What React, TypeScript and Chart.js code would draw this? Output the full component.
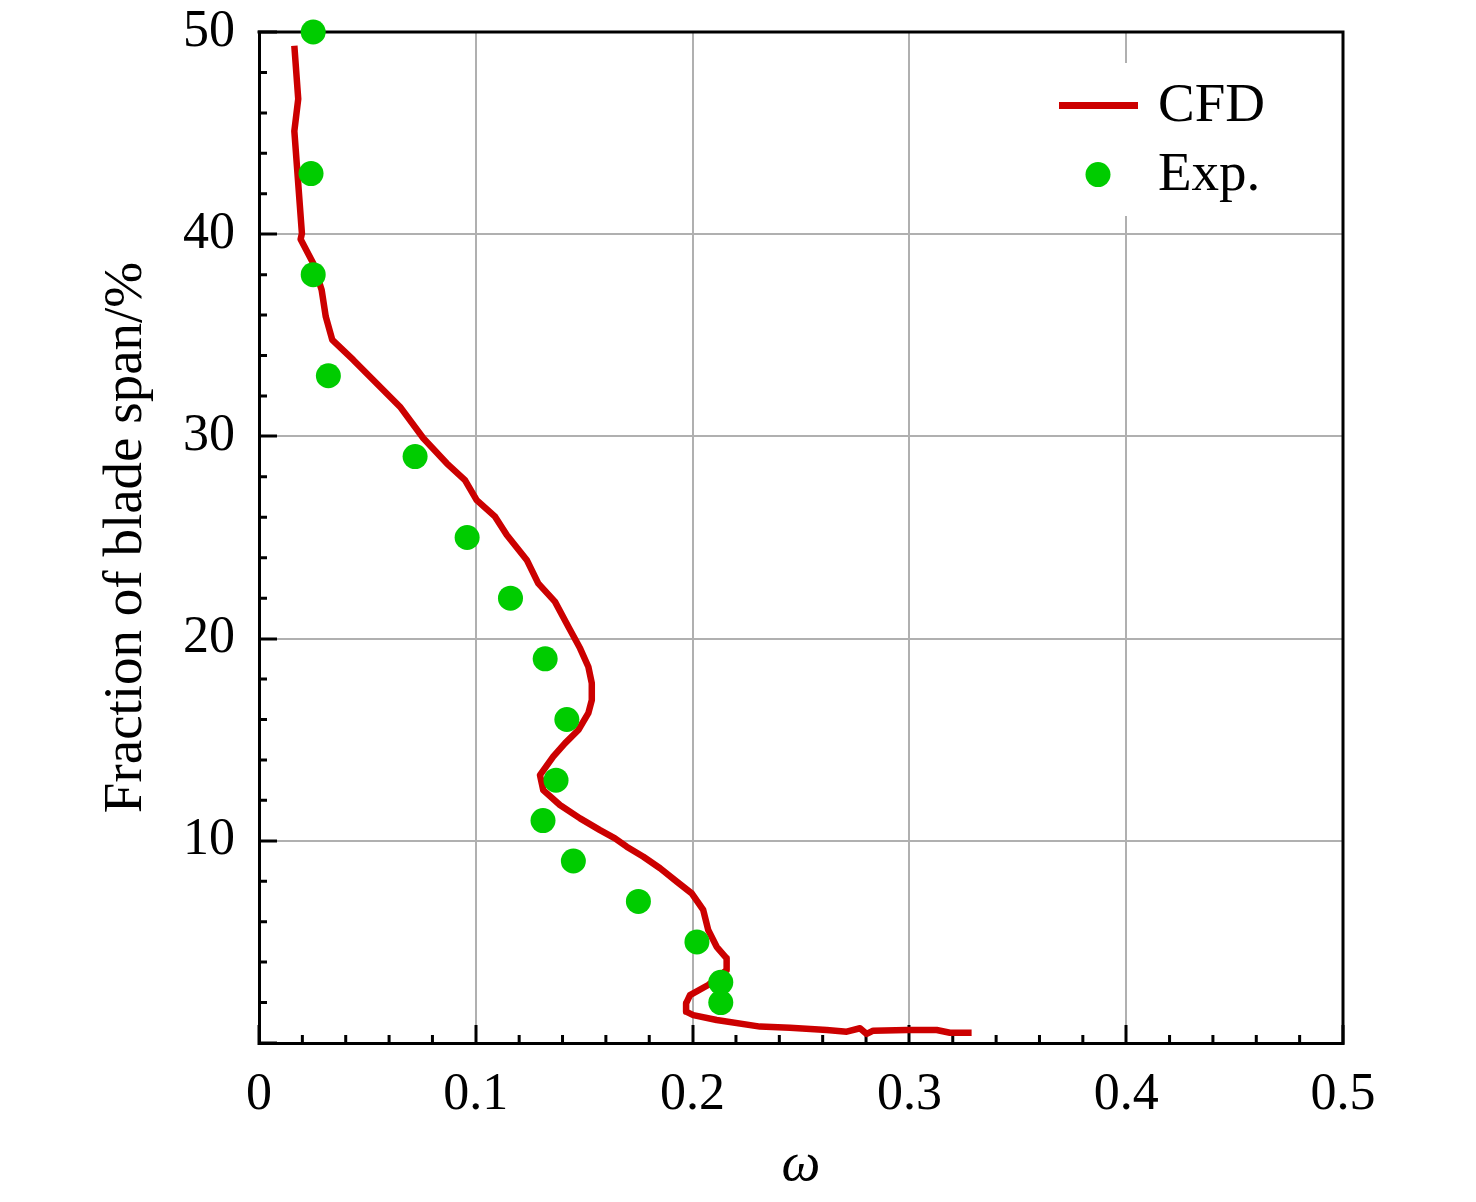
import React, { useEffect, useRef } from 'react';
import { Chart, registerables } from 'chart.js';

Chart.register(...registerables);

// CFD curve (omega vs fraction of blade span, %)
const cfdOmega = [
  0.0163, 0.0181, 0.0163, 0.0198, 0.0192, 0.025, 0.0289, 0.0308, 0.0338, 0.0435,
  0.0527, 0.065, 0.0758, 0.0866, 0.095, 0.1004, 0.1089, 0.1143, 0.1235, 0.1288,
  0.1365, 0.1427, 0.1481, 0.1519, 0.1535, 0.1535, 0.1519, 0.1473, 0.1411, 0.1357,
  0.1296, 0.1311, 0.1388, 0.1481, 0.1573, 0.1642, 0.1696, 0.1773, 0.185, 0.1927,
  0.1996, 0.2049, 0.2072, 0.2111, 0.2157, 0.2157, 0.2072, 0.1988, 0.197, 0.197,
  0.2003, 0.2111, 0.2311, 0.2449, 0.2619, 0.2711, 0.2772, 0.2803, 0.2833, 0.2988,
  0.3126, 0.3187, 0.3287,
];
const cfdSpan = [
  49.32, 46.69, 45.1, 40.04, 39.75, 38.56, 37.24, 35.92, 34.77, 33.78,
  32.79, 31.47, 29.91, 28.67, 27.84, 26.85, 26.03, 25.12, 23.89, 22.73,
  21.83, 20.59, 19.52, 18.61, 17.79, 16.96, 16.31, 15.48, 14.82, 14.16,
  13.25, 12.51, 11.77, 11.11, 10.53, 10.12, 9.71, 9.21, 8.64, 7.98,
  7.4, 6.58, 5.59, 4.76, 4.19, 3.61, 2.87, 2.37, 1.96, 1.55,
  1.38, 1.14, 0.81, 0.76, 0.64, 0.56, 0.73, 0.45, 0.61, 0.64,
  0.64, 0.51, 0.51,
];

// Experimental points
const expOmega = [
  0.025, 0.024, 0.025, 0.032, 0.072, 0.096, 0.116, 0.132,
  0.142, 0.137, 0.131, 0.145, 0.175, 0.202, 0.213, 0.213,
];
const expSpan = [50, 43, 38, 33, 29, 25, 22, 19, 16, 13, 11, 9, 7, 5, 3, 2];

const seriesLabels = ['CFD', 'Exp.'];
const xTickValues = [0, 0.1, 0.2, 0.3, 0.4, 0.5];
const yTickValues = [0, 10, 20, 30, 40, 50];
const xTickLabels = ['0', '0.1', '0.2', '0.3', '0.4', '0.5'];
const yTickLabels = ['', '10', '20', '30', '40', '50'];
const xTitle = 'ω';
const yTitle = 'Fraction of blade span/%';

const SERIF = '"Liberation Serif", "Times New Roman", "DejaVu Serif", serif';
const RED = '#cc0000';
const GREEN = '#00cc00';

const framePlugin = {
  id: 'frameAndLegend',
  beforeDatasetsDraw(chart: any) {
    const { ctx, chartArea, scales } = chart;
    const { left, right, top, bottom } = chartArea;
    ctx.save();
    // legend background (covers grid lines)
    ctx.fillStyle = '#ffffff';
    ctx.fillRect(right - 303, top + 31, 260, 153);
    // minor ticks
    ctx.strokeStyle = '#000000';
    ctx.lineWidth = 3;
    ctx.lineCap = 'butt';
    ctx.beginPath();
    for (let i = 1; i < 25; i++) {
      if (i % 5 === 0) continue;
      const px = scales.x.getPixelForValue(i * 0.02);
      ctx.moveTo(px, bottom);
      ctx.lineTo(px, bottom - 8);
      const py = scales.y.getPixelForValue(i * 2);
      ctx.moveTo(left, py);
      ctx.lineTo(left + 8, py);
    }
    ctx.stroke();
    // top and right frame
    ctx.beginPath();
    ctx.moveTo(left - 1.5, top);
    ctx.lineTo(right, top);
    ctx.lineTo(right, bottom + 1.5);
    ctx.stroke();
    ctx.restore();
  },
  afterDatasetsDraw(chart: any) {
    const { ctx, chartArea } = chart;
    const { right, top } = chartArea;
    const ds = chart.data.datasets;
    ctx.save();
    // CFD entry
    ctx.strokeStyle = ds[0].borderColor;
    ctx.lineWidth = 7;
    ctx.lineCap = 'butt';
    ctx.beginPath();
    ctx.moveTo(right - 284, top + 73.5);
    ctx.lineTo(right - 205, top + 73.5);
    ctx.stroke();
    // Exp entry
    ctx.fillStyle = ds[1].backgroundColor;
    ctx.beginPath();
    ctx.arc(right - 245, top + 142.6, 12.5, 0, Math.PI * 2);
    ctx.fill();
    ctx.fillStyle = '#000000';
    ctx.font = `55px ${SERIF}`;
    ctx.textBaseline = 'alphabetic';
    ctx.textAlign = 'left';
    ctx.fillText(ds[0].label, right - 185, top + 89);
    ctx.fillText(ds[1].label, right - 185, top + 158);
    ctx.restore();
  },
};

export default function App() {
  const canvasRef = useRef<HTMLCanvasElement | null>(null);

  useEffect(() => {
    const canvas = canvasRef.current;
    if (!canvas) return;
    const cfdData = cfdOmega.map((x, i) => ({ x, y: cfdSpan[i] }));
    const expData = expOmega.map((x, i) => ({ x, y: expSpan[i] }));

    const chart = new Chart(canvas, {
      type: 'scatter',
      data: {
        datasets: [
          {
            label: seriesLabels[0],
            data: cfdData,
            showLine: true,
            borderColor: RED,
            backgroundColor: RED,
            borderWidth: 6.5,
            pointRadius: 0,
            tension: 0,
            borderJoinStyle: 'round',
            order: 1,
          } as any,
          {
            label: seriesLabels[1],
            data: expData,
            showLine: false,
            backgroundColor: GREEN,
            borderColor: GREEN,
            borderWidth: 0,
            pointRadius: 12.5,
            pointHoverRadius: 12.5,
            clip: false,
            order: 0,
          } as any,
        ],
      },
      options: {
        animation: false,
        responsive: false,
        layout: { padding: { top: 32, right: 133, left: 0, bottom: 0 } },
        plugins: {
          legend: { display: false },
          tooltip: { enabled: false },
        },
        events: [],
        scales: {
          x: {
            type: 'linear',
            min: 0,
            max: 0.5,
            afterFit: (s: any) => {
              s.height = 159;
              s.paddingLeft = 0;
              s.paddingRight = 0;
            },
            afterBuildTicks: (s: any) => {
              s.ticks = xTickValues.map((v) => ({ value: v }));
            },
            ticks: {
              color: '#000000',
              font: { family: SERIF, size: 52 },
              padding: 39,
              maxRotation: 0,
              autoSkip: false,
              callback: (v: any) => {
                const i = xTickValues.findIndex((t) => Math.abs(t - v) < 1e-9);
                return i >= 0 ? xTickLabels[i] : '';
              },
            },
            grid: {
              color: '#b0b0b0',
              lineWidth: 2,
              drawTicks: true,
              tickLength: -18,
              tickWidth: 3,
              tickColor: '#000000',
            },
            border: { display: true, color: '#000000', width: 3 },
            title: {
              display: true,
              text: xTitle,
              color: '#000000',
              font: { family: SERIF, size: 55, style: 'italic' },
              padding: { top: 0, bottom: 3 },
            },
          },
          y: {
            type: 'linear',
            min: 0,
            max: 50,
            afterFit: (s: any) => {
              s.width = 259;
              s.paddingTop = 0;
              s.paddingBottom = 0;
            },
            afterBuildTicks: (s: any) => {
              s.ticks = yTickValues.map((v) => ({ value: v }));
            },
            ticks: {
              color: '#000000',
              font: { family: SERIF, size: 52 },
              padding: 42,
              autoSkip: false,
              callback: (v: any) => {
                const i = yTickValues.findIndex((t) => Math.abs(t - v) < 1e-9);
                return i >= 0 ? yTickLabels[i] : '';
              },
            },
            grid: {
              color: '#b0b0b0',
              lineWidth: 2,
              drawTicks: true,
              tickLength: -18,
              tickWidth: 3,
              tickColor: '#000000',
            },
            border: { display: true, color: '#000000', width: 3 },
            title: {
              display: true,
              text: yTitle,
              color: '#000000',
              font: { family: SERIF, size: 55 },
              padding: { top: 94, bottom: 0 },
            },
          },
        },
      } as any,
      plugins: [framePlugin],
    });

    return () => {
      chart.destroy();
    };
  }, []);

  return (
    <div style={{ position: 'absolute', left: 0, top: 0, width: 1476, height: 1202, background: '#ffffff' }}>
      <canvas ref={canvasRef} width={1476} height={1202} style={{ display: 'block', width: 1476, height: 1202 }} />
    </div>
  );
}
